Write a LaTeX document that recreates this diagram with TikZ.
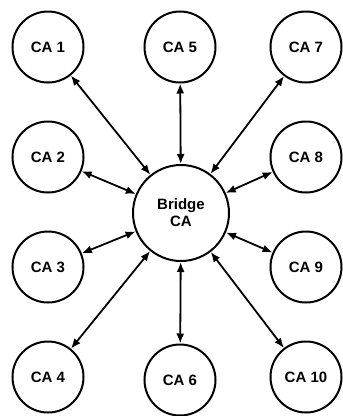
\documentclass[tikz,border=0pt]{standalone}
\usepackage{fontspec}
\setmainfont{Liberation Sans}
\usepackage{tikz}
\usetikzlibrary{arrows.meta, positioning}

\begin{document}
\begin{tikzpicture}[x=1pt, y=1pt, node distance=37pt and 57pt,
    every node/.style={draw, line width=2pt, font=\bfseries\fontsize{15}{17}\selectfont},
    ca/.style={circle, minimum size=71pt, inner sep=0pt}]
    \useasboundingbox (0,0) rectangle (343,-416);
    \node[ca] (CA1) at (48,-47) {CA 1};
    \node[ca, below=of CA1] (CA2) {CA 2};
    \node[ca, below=of CA2] (CA3) {CA 3};
    \node[ca, below=of CA3] (CA4) {CA 4};
    \node[ca] (CA5) at (180,-47) {CA 5};
    \node[ca] (CA6) at (180,-380) {CA 6};
    \node[ca] (CA7) at (306,-47) {CA 7};
    \node[ca, below=of CA7] (CA8) {CA 8};
    \node[ca, below=of CA8] (CA9) {CA 9};
    \node[ca, below=of CA9] (CA10) {CA 10};
    \node[circle, minimum size=96pt, inner sep=0pt, align=center] (Bridge) at (181,-213) {Bridge\\CA};
    \foreach \n in {1,...,10}
        \draw[{Latex[length=10pt,width=8pt]}-{Latex[length=10pt,width=8pt]}, line width=1.8pt] (CA\n) -- (Bridge);
\end{tikzpicture}
\end{document}
